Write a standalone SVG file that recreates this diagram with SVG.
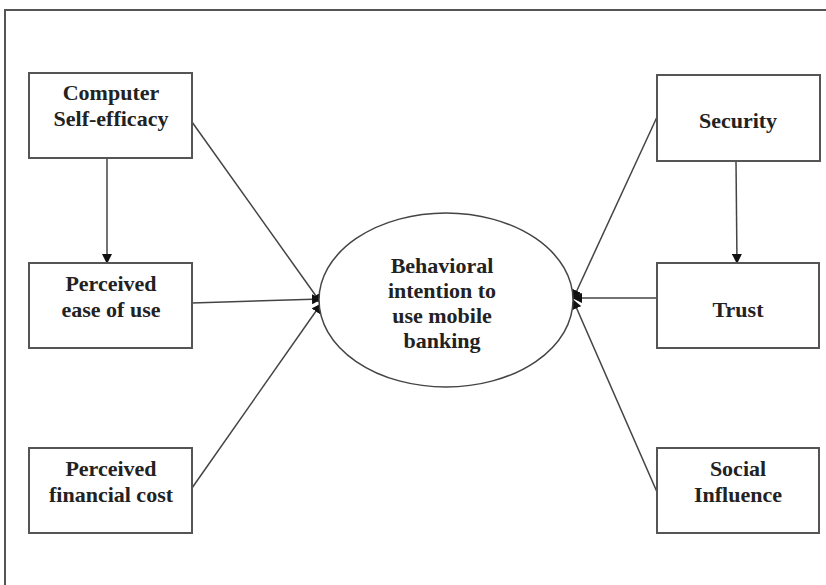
<svg xmlns="http://www.w3.org/2000/svg" width="826" height="585" viewBox="0 0 826 585">
<style>
.box{fill:#fff;stroke:#555;stroke-width:2}
.lbl{font-family:"Liberation Serif","Times New Roman",serif;font-weight:bold;font-size:22px;fill:#222;text-anchor:middle}
.con{stroke:#444;stroke-width:1.5;fill:none}
</style>
<defs>
<marker id="ah" viewBox="0 0 10 10" refX="9" refY="5" markerWidth="10" markerHeight="10" markerUnits="userSpaceOnUse" orient="auto">
<path d="M0,0 L10,5 L0,10 Z" fill="#111"/>
</marker>
</defs>
<rect width="826" height="585" fill="#fff"/>
<path d="M5,585 L5,10 L826,10" fill="none" stroke="#555" stroke-width="2"/>
<g id="connectors">
<line class="con" x1="192" y1="122" x2="321" y2="303" marker-end="url(#ah)"/>
<line class="con" x1="192" y1="303" x2="321" y2="299" marker-end="url(#ah)"/>
<line class="con" x1="192" y1="488" x2="321" y2="304" marker-end="url(#ah)"/>
<line class="con" x1="657" y1="117" x2="573" y2="299" marker-end="url(#ah)"/>
<line class="con" x1="657" y1="298" x2="573" y2="298" marker-end="url(#ah)"/>
<line class="con" x1="657" y1="492" x2="573" y2="300" marker-end="url(#ah)"/>
<line class="con" x1="107" y1="158" x2="107" y2="263" marker-end="url(#ah)"/>
<line class="con" x1="736" y1="161" x2="737" y2="263" marker-end="url(#ah)"/>
</g>
<g id="cse">
<rect class="box" x="29" y="73" width="163" height="85"/>
<text class="lbl" x="111" y="100">Computer</text>
<text class="lbl" x="111" y="126">Self-efficacy</text>
</g>
<g id="peu">
<rect class="box" x="29" y="263" width="163" height="85"/>
<text class="lbl" x="111" y="291">Perceived</text>
<text class="lbl" x="111" y="317">ease of use</text>
</g>
<g id="pfc">
<rect class="box" x="29" y="448" width="163" height="85"/>
<text class="lbl" x="111" y="476">Perceived</text>
<text class="lbl" x="111" y="502">financial cost</text>
</g>
<g id="bi">
<ellipse cx="446" cy="300" rx="127" ry="87" fill="#fff" stroke="#444" stroke-width="1.5"/>
<text class="lbl" x="442" y="273">Behavioral</text>
<text class="lbl" x="442" y="298">intention to</text>
<text class="lbl" x="442" y="323">use mobile</text>
<text class="lbl" x="442" y="348">banking</text>
</g>
<g id="security">
<rect class="box" x="657" y="75" width="163" height="86"/>
<text class="lbl" x="738" y="128">Security</text>
</g>
<g id="trust">
<rect class="box" x="657" y="263" width="162" height="85"/>
<text class="lbl" x="738" y="317">Trust</text>
</g>
<g id="social">
<rect class="box" x="657" y="448" width="162" height="85"/>
<text class="lbl" x="738" y="476">Social</text>
<text class="lbl" x="738" y="502">Influence</text>
</g>
</svg>
